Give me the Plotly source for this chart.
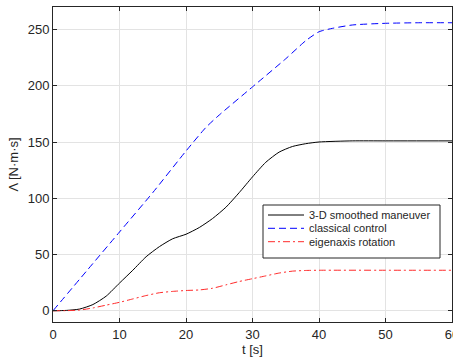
import plotly.graph_objects as go

# ---- data ----
t_black = [0, 2, 4, 6, 8, 10, 12, 14, 16, 18, 20, 22, 24, 26, 28, 30, 32, 34, 36, 38, 40, 45, 50, 60]
v_black = [0, 0.3, 1.5, 5.5, 13, 24.6, 36, 48, 57, 64, 68, 74, 82, 92, 105, 119, 132, 141, 146, 148.5, 150, 151, 151, 151]

t_blue = [0, 5, 10, 15, 20, 23, 25, 30, 35, 38, 40, 42, 45, 50, 55, 60]
v_blue = [0, 35, 70, 105, 142, 163, 174, 199, 224, 240, 248, 251, 254, 255.5, 256, 256]

t_red = [0, 2, 4, 6, 8, 10, 12, 14, 16, 18, 20, 22, 24, 26, 28, 30, 32, 34, 36, 38, 40, 50, 60]
v_red = [0, 0.1, 0.6, 2.5, 5, 7.5, 10.5, 13.5, 16, 17.2, 18, 18.5, 20, 23, 26, 28.5, 31, 33.5, 35.2, 35.8, 36, 36, 36]

series_names = ["3-D smoothed maneuver", "classical control", "eigenaxis rotation"]
x_ticks = [0, 10, 20, 30, 40, 50, 60]
y_ticks = [0, 50, 100, 150, 200, 250]

colors = ["#000000", "#0000ff", "#ff2a2a"]
dashes = ["solid", "7px,4px", "7px,3px,2px,3px"]

FONT = "Liberation Sans, Arial, sans-serif"
AX = "#262626"

fig = go.Figure()
for xs, ys, nm, c, d in zip([t_black, t_blue, t_red], [v_black, v_blue, v_red], series_names, colors, dashes):
    fig.add_trace(go.Scatter(x=xs, y=ys, mode="lines", name=nm,
                             line=dict(color=c, width=1, dash=d, shape="spline", smoothing=0.6),
                             showlegend=False))

# ---- manual legend (MATLAB-style compact box) ----
W, H, L, T = 399.0, 315.0, 53.0, 7.0
def px(x): return (x - L) / W
def py(y): return 1 - (y - T) / H

shapes = [dict(type="rect", xref="paper", yref="paper", x0=px(263), x1=px(440), y0=py(258), y1=py(205),
               line=dict(color=AX, width=1), fillcolor="white", layer="above")]
annotations = []
rows = [215, 228.3, 241.7]
for r, nm, c, d in zip(rows, series_names, colors, dashes):
    shapes.append(dict(type="line", xref="paper", yref="paper", x0=px(268), x1=px(304), y0=py(r), y1=py(r),
                       line=dict(color=c, width=1, dash=d), layer="above"))
    annotations.append(dict(xref="paper", yref="paper", x=px(307), y=py(r), xanchor="left", yanchor="middle",
                            text=nm, showarrow=False, font=dict(family=FONT, size=11, color=AX)))

fig.update_layout(
    width=453, height=361,
    margin=dict(l=53, r=1, t=7, b=39, autoexpand=False),
    paper_bgcolor="white", plot_bgcolor="white",
    font=dict(family=FONT, size=13, color=AX),
    shapes=shapes, annotations=annotations,
)
fig.update_xaxes(range=[0, 60], tickvals=x_ticks, ticks="inside", ticklen=4, tickcolor=AX,
                 ticklabeloverflow="allow", automargin=False,
                 showline=True, linecolor=AX, linewidth=1, mirror="ticks",
                 showgrid=True, gridcolor="#e3e3e3", gridwidth=1, zeroline=False,
                 title=dict(text="t [s]", standoff=4, font=dict(size=13, color=AX)))
fig.update_yaxes(range=[-10, 270], tickvals=y_ticks, ticks="inside", ticklen=4, tickcolor=AX,
                 automargin=False,
                 showline=True, linecolor=AX, linewidth=1, mirror="ticks",
                 showgrid=True, gridcolor="#e3e3e3", gridwidth=1, zeroline=False,
                 title=dict(text="Λ [N·m·s]", standoff=6, font=dict(size=13, color=AX)))

fig.write_html("out.html")
